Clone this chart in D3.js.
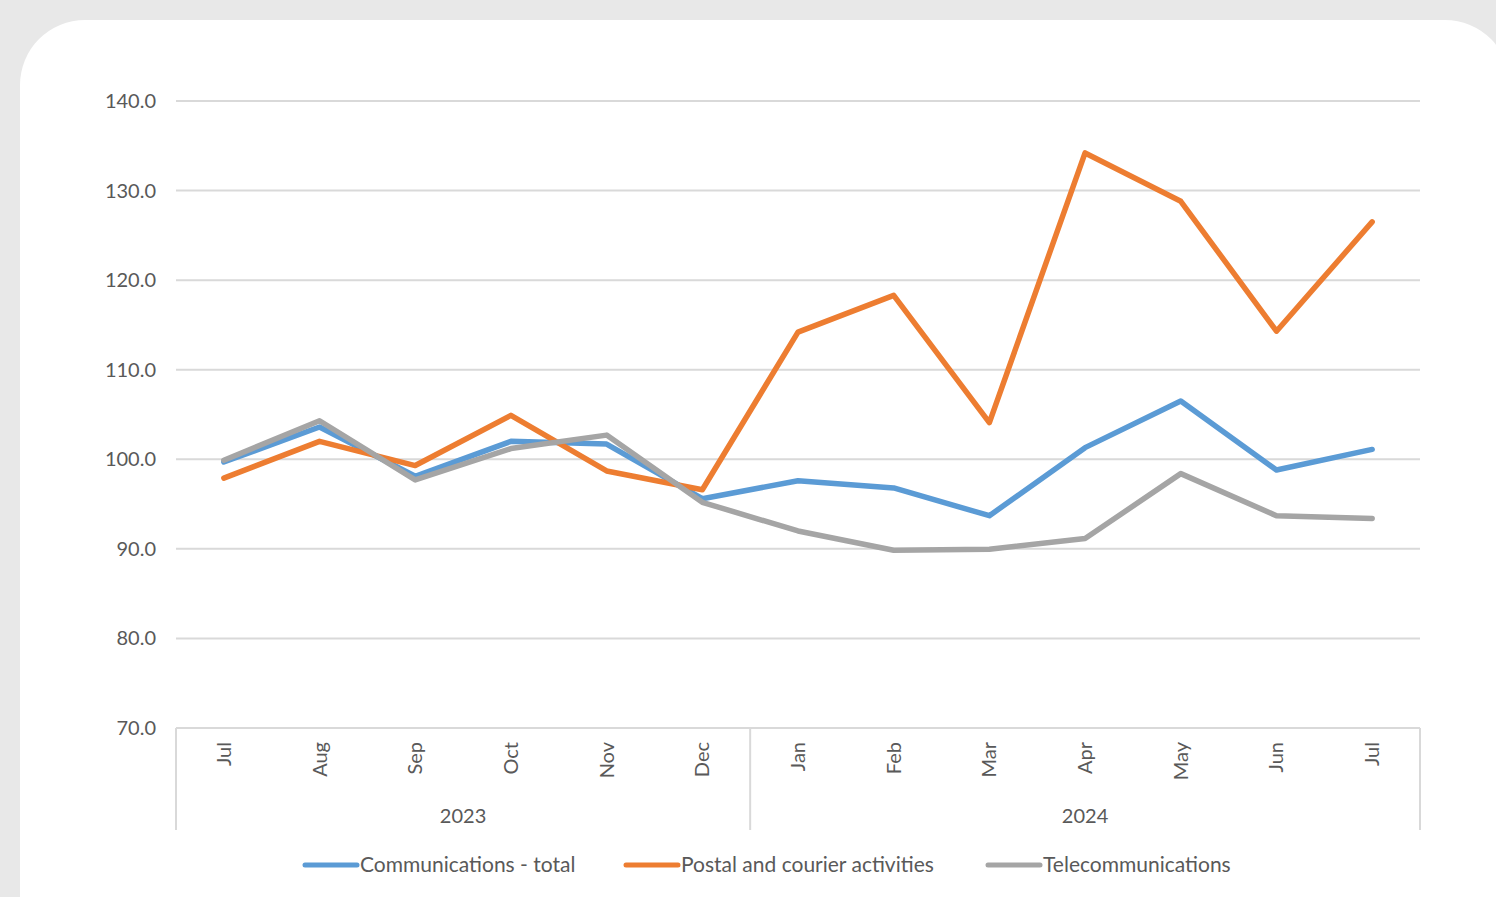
<!DOCTYPE html>
<html><head><meta charset="utf-8">
<script src="https://cdn.jsdelivr.net/npm/d3@7/dist/d3.min.js"></script>
<style>html,body{margin:0;padding:0;background:#e8e8e8;overflow:hidden}</style>
</head><body>
<svg id="c" width="1496" height="897"></svg>
<script>
const months = ["Jul","Aug","Sep","Oct","Nov","Dec","Jan","Feb","Mar","Apr","May","Jun","Jul"];
const years = [{label:"2023", from:0, to:6},{label:"2024", from:6, to:13}];
const yTicks = [70,80,90,100,110,120,130,140];
const commTotal = [99.7,103.6,98.1,102.0,101.7,95.6,97.6,96.8,93.7,101.3,106.5,98.8,101.1];
const postal = [97.9,102.0,99.3,104.9,98.7,96.6,114.2,118.3,104.1,134.2,128.8,114.3,126.5];
const telecom = [99.9,104.3,97.7,101.2,102.7,95.2,92.0,89.85,89.95,91.15,98.4,93.7,93.4];
const seriesNames = ["Communications - total","Postal and courier activities","Telecommunications"];
const colors = ["#5B9BD5","#ED7D31","#A5A5A5"];

const svg = d3.select("#c");
const font = "Lato, 'Open Sans', sans-serif";
svg.append("rect").attr("x",20).attr("y",20).attr("width",1490).attr("height",960).attr("rx",65).attr("fill","#fff");

const L=176,R=1420,T=101,B=728;
const idx = d3.range(months.length);
const x = d3.scaleBand().domain(idx).range([L,R]);
const y = d3.scaleLinear().domain([70,140]).range([B,T]);

// grid
svg.append("g").selectAll("line").data(yTicks.filter(d=>d>70)).join("line")
  .attr("x1",L).attr("x2",R).attr("y1",d=>y(d)).attr("y2",d=>y(d))
  .attr("stroke","#d9d9d9").attr("stroke-width",2);

// y labels
svg.append("g").selectAll("text").data(yTicks).join("text")
  .attr("x",156).attr("y",d=>y(d)).attr("dy","0.35em").attr("text-anchor","end")
  .attr("font-family",font).attr("font-size",20).attr("fill","#595959")
  .text(d=>d3.format(".1f")(d));

// category axis box
const ax = svg.append("g").attr("stroke","#d9d9d9").attr("stroke-width",2);
ax.append("line").attr("x1",L).attr("x2",R).attr("y1",B).attr("y2",B);
const seps = [0,6,13].map(i=> i<13 ? x(i) : R);
ax.selectAll(".sep").data(seps).join("line").attr("class","sep")
  .attr("x1",d=>d).attr("x2",d=>d).attr("y1",B).attr("y2",830);

// month labels
svg.append("g").selectAll("text").data(idx).join("text")
  .attr("transform",i=>`translate(${x(i)+x.bandwidth()/2},742) rotate(-90)`)
  .attr("text-anchor","end").attr("dy","0.35em")
  .attr("font-family",font).attr("font-size",20).attr("fill","#595959")
  .text(i=>months[i]);

// year labels
svg.append("g").selectAll("text").data(years).join("text")
  .attr("x",d=>((x(d.from)) + (d.to<13?x(d.to):R))/2).attr("y",816).attr("dy","0.35em")
  .attr("text-anchor","middle").attr("font-family",font).attr("font-size",20).attr("fill","#595959")
  .text(d=>d.label);

// lines
const line = d3.line().x((d,i)=>x(i)+x.bandwidth()/2).y(d=>y(d));
[commTotal,postal,telecom].forEach((s,k)=>{
  svg.append("path").datum(s).attr("d",line).attr("fill","none")
    .attr("stroke",colors[k]).attr("stroke-width",5.5).attr("stroke-linejoin","round").attr("stroke-linecap","round");
});

// legend
const legX=[305,626,988];
const lg = svg.append("g");
seriesNames.forEach((n,k)=>{
  lg.append("line").attr("x1",legX[k]).attr("x2",legX[k]+52).attr("y1",865).attr("y2",865)
    .attr("stroke",colors[k]).attr("stroke-width",5).attr("stroke-linecap","round");
  lg.append("text").attr("x",legX[k]+55).attr("y",865).attr("dy","0.35em")
    .attr("font-family",font).attr("font-size",21).attr("fill","#595959").text(n);
});
</script>
</body></html>
